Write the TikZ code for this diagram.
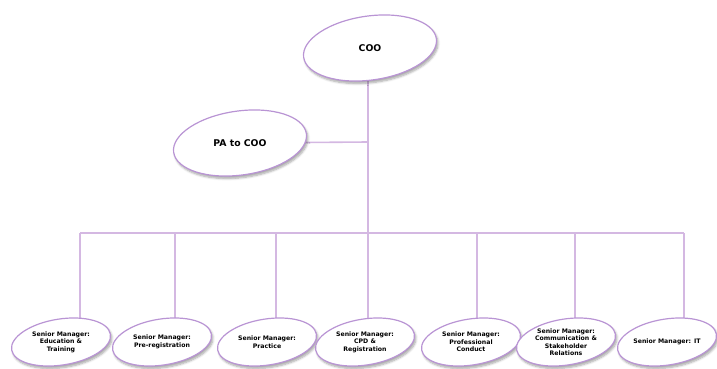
\documentclass[tikz,border=0pt]{standalone}
\usepackage{fontspec}
\setmainfont{DejaVu Sans}
\usetikzlibrary{shapes.geometric,shadows.blur,backgrounds}

\definecolor{rimpurple}{RGB}{185,148,212}
\definecolor{linkpurple}{RGB}{212,184,226}

\tikzset{
  bubble/.style={ellipse, draw=rimpurple, line width=1.2pt, fill=white,
    inner sep=0pt,
    blur shadow={shadow xshift=1.5pt, shadow yshift=-2.5pt,
      shadow blur steps=6, shadow opacity=35}},
  topbubble/.style={bubble, minimum width=134pt, minimum height=64pt, rotate=8},
  leafbubble/.style={bubble, minimum width=100pt, minimum height=46pt, rotate=9},
  bigtext/.style={font=\bfseries\fontsize{9.3}{11}\selectfont, align=center},
  smalltext/.style={font=\bfseries\fontsize{6.2}{7.5}\selectfont, align=center},
  link/.style={draw=linkpurple, line width=1.6pt}
}

\begin{document}
\begin{tikzpicture}[x=1pt, y=-1pt]
  \useasboundingbox (0,0) rectangle (717,369);

  % junction points of the connector tree
  \coordinate (hub) at (368,233);
  \coordinate (pajoin) at (368,142);
  \coordinate (b1) at (80,233);
  \coordinate (b2) at (175,233);
  \coordinate (b3) at (276,233);
  \coordinate (b5) at (477,233);
  \coordinate (b6) at (575,233);
  \coordinate (b7) at (684,233);

  % the bubbles
  \node[topbubble] (coo) at (370,48) {};
  \node[topbubble] (pa) at (240,143) {};
  \node[leafbubble] (m1) at (61,342) {};
  \node[leafbubble] (m2) at (162,342) {};
  \node[leafbubble] (m3) at (267,342) {};
  \node[leafbubble] (m4) at (365,342) {};
  \node[leafbubble] (m5) at (471,342) {};
  \node[leafbubble] (m6) at (566,342) {};
  \node[leafbubble] (m7) at (667,342) {};

  % labels
  \node[bigtext] (tcoo) at (coo.center) {COO};
  \node[bigtext] (tpa) at (pa.center) {PA to COO};
  \node[smalltext] (t1) at (m1.center) {Senior Manager:\\Education \&\\Training};
  \node[smalltext] (t2) at (m2.center) {Senior Manager:\\Pre-registration};
  \node[smalltext] (t3) at (m3.center) {Senior Manager:\\Practice};
  \node[smalltext] (t4) at (m4.center) {Senior Manager:\\CPD \&\\Registration};
  \node[smalltext] (t5) at (m5.center) {Senior Manager:\\Professional\\Conduct};
  \node[smalltext] (t6) at (m6.center) {Senior Manager:\\Communication \&\\Stakeholder\\Relations};
  \node[smalltext] (t7) at (m7.center) {Senior Manager: IT};

  % connectors, kept underneath the bubbles
  \begin{pgfonlayer}{background}
    \draw[link] (hub |- coo.center) -- (hub);
    \draw[link] (pa.center) -- (pajoin);
    \draw[link] (b1) -- (b7);
    \draw[link] (b1) -- (b1 |- m1.center);
    \draw[link] (b2) -- (b2 |- m2.center);
    \draw[link] (b3) -- (b3 |- m3.center);
    \draw[link] (hub) -- (hub |- m4.center);
    \draw[link] (b5) -- (b5 |- m5.center);
    \draw[link] (b6) -- (b6 |- m6.center);
    \draw[link] (b7) -- (b7 |- m7.center);
  \end{pgfonlayer}
\end{tikzpicture}
\end{document}
